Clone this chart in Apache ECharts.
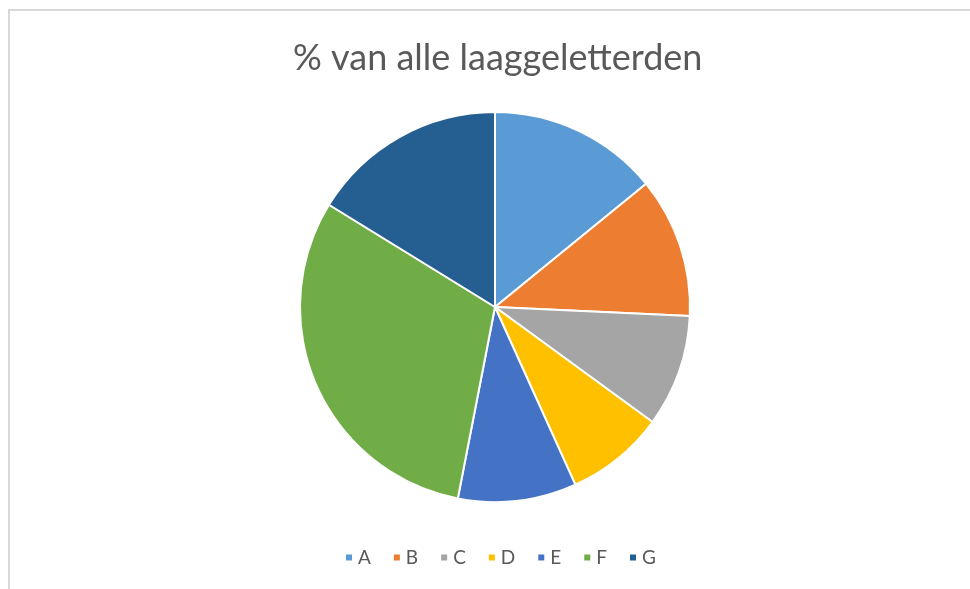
<!DOCTYPE html>
<html>
<head>
<meta charset="utf-8">
<script src="https://cdn.jsdelivr.net/npm/echarts@6/dist/echarts.min.js"></script>
<style>
html, body { margin: 0; padding: 0; background: #fff; }
#frame {
    position: absolute; left: 8px; top: 9px; width: 970px; height: 589px;
    border-top: 2px solid #d9d9d9; border-left: 2px solid #d9d9d9;
}
#chart { position: absolute; left: 0; top: 0; width: 970px; height: 589px; }
</style>
</head>
<body>
<div id="frame"></div>
<div id="chart"></div>
<script>
var categories = ['A', 'B', 'C', 'D', 'E', 'F', 'G'];
var values = [14.1, 11.6, 9.3, 8.2, 9.8, 30.7, 16.2];
var colors = ['#5B9BD5', '#ED7D31', '#A5A5A5', '#FFC000', '#4472C4', '#70AD47', '#255E91'];

var chart = echarts.init(document.getElementById('chart'));
chart.setOption({
    color: colors,
    animation: false,
    title: {
        text: '% van alle laaggeletterden',
        left: 288,
        top: 35,
        textStyle: { fontFamily: 'Lato', fontSize: 36, fontWeight: 'normal', color: '#595959' }
    },
    legend: {
        data: categories,
        bottom: 17,
        left: 339,
        icon: 'rect',
        itemWidth: 8,
        itemHeight: 8,
        itemGap: 21,
        textStyle: { fontFamily: 'Lato', fontSize: 19, color: '#595959' }
    },
    series: [
        {
            type: 'pie',
            center: [495, 307],
            radius: 195,
            startAngle: 90,
            clockwise: true,
            label: { show: false },
            labelLine: { show: false },
            itemStyle: { borderColor: '#fff', borderWidth: 2 },
            data: categories.map(function (c, i) { return { name: c, value: values[i] }; })
        }
    ]
});
</script>
</body>
</html>
